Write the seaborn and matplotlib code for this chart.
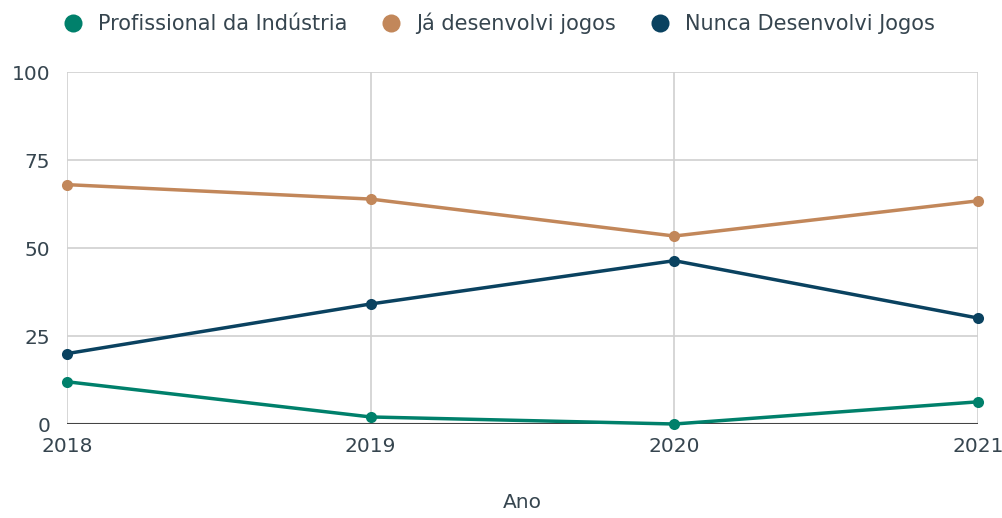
import numpy as np
import pandas as pd
import matplotlib.pyplot as plt
import seaborn as sns

# --- data ---
anos = [2018, 2019, 2020, 2021]
profissional = [12.0, 2.0, 0.0, 6.3]
ja_desenvolvi = [68.0, 63.9, 53.4, 63.4]
nunca_desenvolvi = [20.0, 34.1, 46.4, 30.1]
series_names = ["Profissional da Indústria", "Já desenvolvi jogos", "Nunca Desenvolvi Jogos"]
cores = ["#00806B", "#C2875A", "#0A4260"]

df = pd.DataFrame({
    "Ano": anos * 3,
    "valor": profissional + ja_desenvolvi + nunca_desenvolvi,
    "grupo": [series_names[0]] * 4 + [series_names[1]] * 4 + [series_names[2]] * 4,
})

sns.set_style("white")
plt.rcParams["font.family"] = ["DejaVu Sans"]
text_color = "#36454f"
fs = 14.5

fig = plt.figure(figsize=(10.03, 5.18), dpi=100)
ax = fig.add_axes([67 / 1003, 1 - 424 / 518, (978 - 67) / 1003, (424 - 72) / 518])

sns.lineplot(data=df, x="Ano", y="valor", hue="grupo", hue_order=series_names,
             palette=cores, marker="o", markersize=8, markeredgewidth=0,
             linewidth=2.5, ax=ax, clip_on=False, zorder=3)

ax.set_xlim(2018, 2021)
ax.set_ylim(0, 100)
ax.set_xticks(anos)
ax.set_yticks([0, 25, 50, 75, 100])
ax.grid(True, color="#d0d0d0", linewidth=1.2, zorder=0)
ax.axhline(0, color="#444444", linewidth=1.5, zorder=2)
for s in ax.spines.values():
    s.set_visible(False)
ax.tick_params(axis="both", length=0, labelsize=fs, labelcolor=text_color)
ax.tick_params(axis="x", pad=9)
ax.tick_params(axis="y", pad=12)
ax.set_ylabel("")
ax.set_xlabel("Ano", fontsize=fs, color=text_color, labelpad=27)

handles, labels = ax.get_legend_handles_labels()
ax.legend_.remove()
leg = fig.legend(handles, labels, loc="upper left", bbox_to_anchor=(0.046, 1.012),
                 ncol=3, frameon=False, fontsize=15, handlelength=0.8,
                 handletextpad=0.8, columnspacing=1.7, labelcolor=text_color)
for h in leg.legend_handles:
    h.set_linestyle("")
    h.set_marker("o")
    h.set_markersize(13)

fig.savefig("out.png", dpi=100)
